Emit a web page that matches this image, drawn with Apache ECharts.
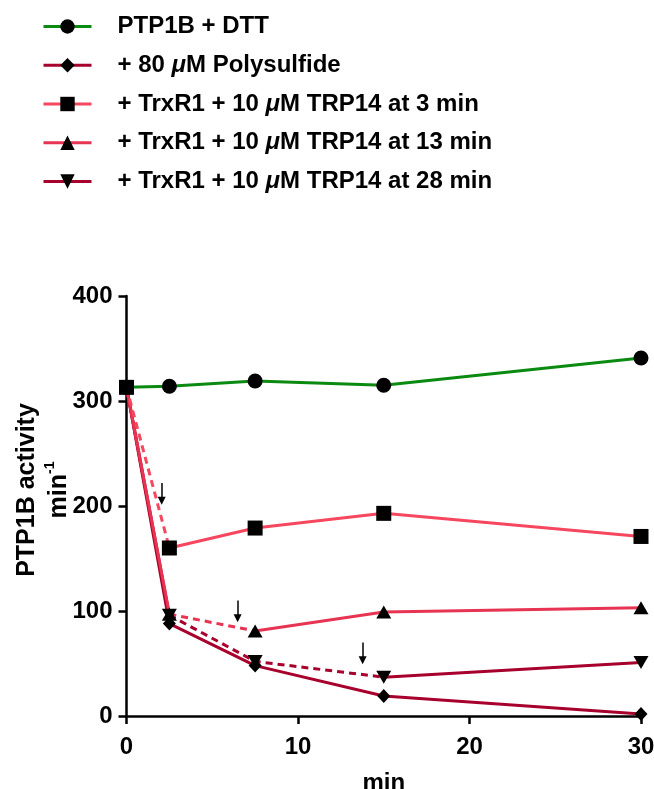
<!DOCTYPE html>
<html><head><meta charset="utf-8">
<script src="https://cdn.jsdelivr.net/npm/echarts@6/dist/echarts.min.js"></script>
<style>html,body{margin:0;padding:0;background:#fff}#c{width:654px;height:789px}</style>
</head><body><div id="c"></div>
<script>
// ---- data ----
const times = [0, 2.5, 7.5, 15, 30];
const seriesNames = ['PTP1B + DTT', '+ 80 μM Polysulfide', '+ TrxR1 + 10 μM TRP14 at 3 min', '+ TrxR1 + 10 μM TRP14 at 13 min', '+ TrxR1 + 10 μM TRP14 at 28 min'];
const dtt = [313, 314, 319, 315, 341];
const polysulfide = [313, 88, 48, 19, 2];
const trp14At3 = [313, 160, 179, 193, 171];
const trp14At13 = [313, 97, 81, 99, 103];
const trp14At28 = [313, 96, 52, 37, 51];
// dashed part of each curve: [first index, last index]
const dashedRanges = [null, null, [0, 1], [1, 2], [1, 3]];
// arrows marking additions
const arrowX = [2.05, 6.48, 13.77];
const arrowTop = [222, 110, 70];
const arrowBottom = [205, 93, 53];
const xTicks = [0, 10, 20, 30];
const yTicks = [0, 100, 200, 300, 400];

// ---- styles ----
const values = [dtt, polysulfide, trp14At3, trp14At13, trp14At28];
const colors = ['#0b8a12', '#a8002c', '#f6475f', '#e63452', '#a8002c'];
const symbols = ['circle', 'diamond', 'rect', 'triangle', 'triangle'];
const symSizes = [15, [13, 14], 15, [15, 13], [15, 13]];
const symRot = [0, 0, 0, 0, 180];
const FONT = 'Liberation Sans, Arial, Helvetica, sans-serif';

const pts = (arr, a, b) => times.slice(a, b + 1).map((t, k) => [t, arr[a + k]]);

const series = [];
const lineOrder = [0, 1, 4, 3, 2];
lineOrder.forEach(i => {
  const n = times.length - 1;
  const segs = [];
  const d = dashedRanges[i];
  if (!d) segs.push([0, n, 'solid']);
  else {
    if (d[0] > 0) segs.push([0, d[0], 'solid']);
    segs.push([d[0], d[1], 'dashed']);
    if (d[1] < n) segs.push([d[1], n, 'solid']);
  }
  segs.forEach(s => {
    series.push({
      type: 'line', silent: true, showSymbol: false, symbol: 'none',
      data: pts(values[i], s[0], s[1]),
      lineStyle: { color: colors[i], width: 3, type: s[2] === 'dashed' ? [7, 5] : 'solid' },
      z: 2
    });
  });
});
const markerOrder = [0, 1, 3, 4, 2];
markerOrder.forEach(i => {
  series.push({
    name: seriesNames[i], type: 'line',
    data: pts(values[i], 0, times.length - 1),
    symbol: symbols[i], symbolSize: symSizes[i], symbolRotate: symRot[i], showSymbol: true,
    itemStyle: { color: '#000' },
    lineStyle: { color: colors[i], width: 3, opacity: 0 },
    z: 3
  });
});
series.push({
  type: 'line', data: [], silent: true,
  markLine: {
    silent: true, symbol: ['none', 'triangle'], symbolSize: 8,
    label: { show: false },
    lineStyle: { color: '#000', width: 1.5, type: 'solid' },
    itemStyle: { color: '#000' },
    emphasis: { disabled: true },
    data: arrowX.map((x, k) => [{ coord: [x, arrowTop[k]] }, { coord: [x, arrowBottom[k]] }])
  }
});

const chart = echarts.init(document.getElementById('c'));
chart.setOption({
  animation: false,
  backgroundColor: '#fff',
  legend: {
    orient: 'vertical', left: 37, top: 9.5,
    itemWidth: 48, itemHeight: 18, itemGap: 14.75,
    data: [0, 1, 2, 3, 4].map(i => ({
      name: seriesNames[i],
      lineStyle: { color: colors[i], width: 3, opacity: 1, type: 'solid' }
    })),
    formatter: n => n.replace('μ', '{i|μ}'),
    textStyle: {
      fontFamily: FONT, fontWeight: 'bold', fontSize: 24, color: '#000', lineHeight: 24,
      padding: [0, 0, 0, 21],
      rich: { i: { fontFamily: FONT, fontWeight: 'bold', fontStyle: 'italic', fontSize: 24, color: '#000' } }
    },
    selectedMode: false
  },
  grid: { left: 126.5, right: 13, top: 296, bottom: 73, containLabel: false, outerBoundsMode: 'none' },
  xAxis: {
    type: 'value', min: xTicks[0], max: xTicks[xTicks.length - 1], interval: 10,
    name: 'min', nameLocation: 'middle', nameGap: 55, nameMoveOverlap: false,
    nameTextStyle: { fontFamily: FONT, fontWeight: 'bold', fontSize: 24, color: '#000', verticalAlign: 'top' },
    axisLine: { lineStyle: { color: '#000', width: 2.5 } },
    axisTick: { show: true, length: 8, lineStyle: { color: '#000', width: 2.5 } },
    axisLabel: { margin: 19, fontFamily: FONT, fontWeight: 'bold', fontSize: 24, color: '#000' },
    splitLine: { show: false }
  },
  yAxis: {
    type: 'value', min: yTicks[0], max: yTicks[yTicks.length - 1], interval: 100,
    name: 'PTP1B activity\nmin{sup|-1}', nameLocation: 'middle', nameGap: 51, nameMoveOverlap: false,
    nameTextStyle: {
      fontFamily: FONT, fontWeight: 'bold', fontSize: 25, color: '#000', lineHeight: 32,
      padding: [0, 0, 0, 32],
      rich: { sup: { fontFamily: FONT, fontWeight: 'bold', fontSize: 14, color: '#000', verticalAlign: 'top', lineHeight: 32 } }
    },
    axisLine: { show: true, lineStyle: { color: '#000', width: 2.5 } },
    axisTick: { show: true, length: 8, lineStyle: { color: '#000', width: 2.5 } },
    axisLabel: { margin: 14, fontFamily: FONT, fontWeight: 'bold', fontSize: 24, color: '#000' },
    splitLine: { show: false }
  },
  series: series
});
</script></body></html>
